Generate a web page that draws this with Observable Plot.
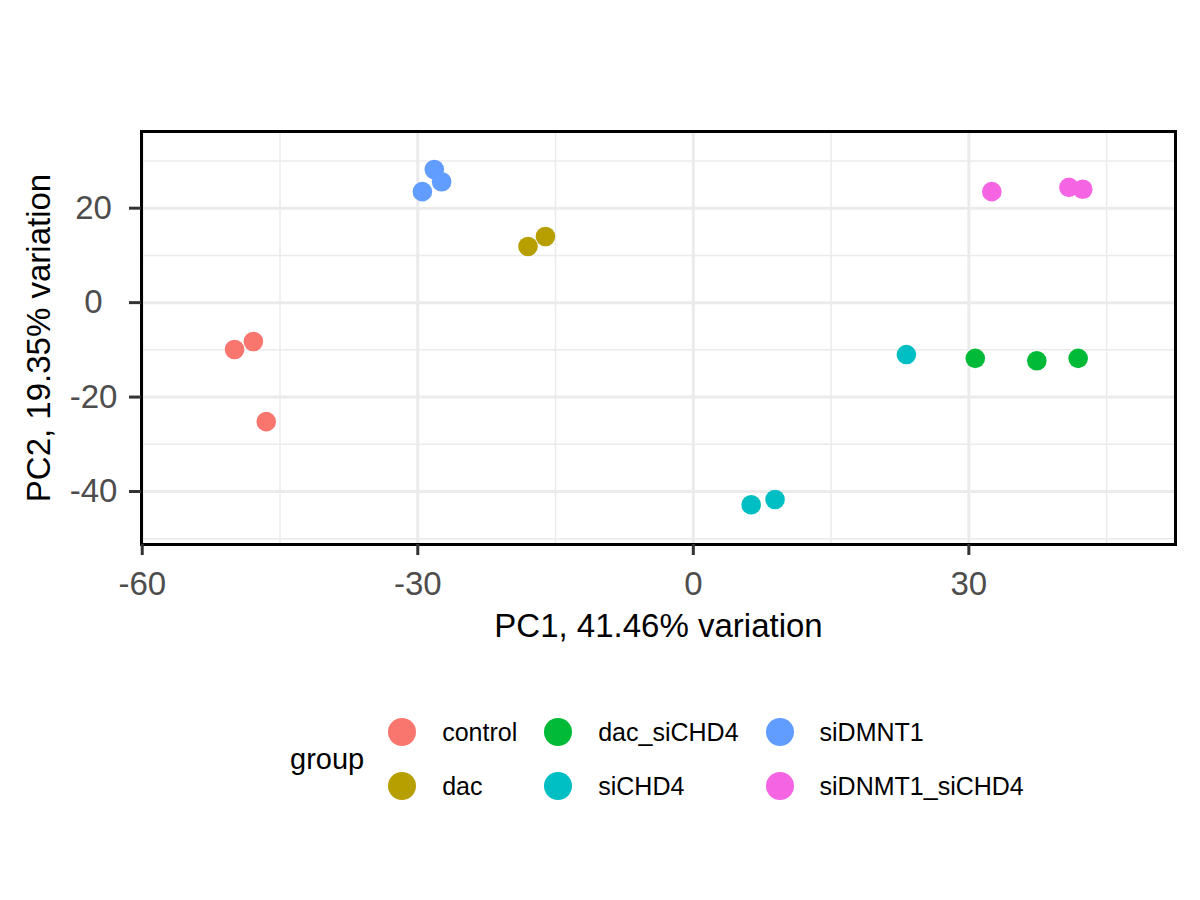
<!DOCTYPE html>
<html>
<head>
<meta charset="utf-8">
<script src="https://cdn.jsdelivr.net/npm/d3@7"></script>
<script src="https://cdn.jsdelivr.net/npm/@observablehq/plot@0.6"></script>
<style>
  html, body { margin: 0; padding: 0; background: #fff; }
  #wrap { position: relative; width: 1200px; height: 900px; font-family: "Liberation Sans", Arial, Helvetica, sans-serif; }
  #legend { position: absolute; left: 290px; top: 705px; display: flex; align-items: center; }
  #legend .title { font-size: 29px; color: #000; margin-right: 24px; }
  #legend .grid { display: grid; grid-template-rows: 54px 54px; grid-auto-flow: column; column-gap: 27px; }
  #legend .item { display: flex; align-items: center; }
  #legend .sw { width: 28px; height: 28px; border-radius: 50%; margin-right: 26px; }
  #legend .lab { font-size: 25px; color: #000; }
</style>
</head>
<body>
<div id="wrap"></div>
<script>
// ---- data ----
const groups = ["control", "dac", "dac_siCHD4", "siCHD4", "siDMNT1", "siDNMT1_siCHD4"];
const colors = ["#F8766D", "#B79F00", "#00BA38", "#00BFC4", "#619CFF", "#F564E3"];
const sampleGroup = ["control","control","control",
                     "siDMNT1","siDMNT1","siDMNT1",
                     "dac","dac",
                     "siCHD4","siCHD4","siCHD4",
                     "dac_siCHD4","dac_siCHD4","dac_siCHD4",
                     "siDNMT1_siCHD4","siDNMT1_siCHD4","siDNMT1_siCHD4"];
const pc1 = [-49.95, -47.9, -46.5,
             -29.5, -28.2, -27.4,
             -18.0, -16.1,
             23.2, 6.3, 8.9,
             30.7, 37.4, 41.9,
             32.5, 40.9, 42.4];
const pc2 = [-9.93, -8.24, -25.2,
             23.5, 28.2, 25.6,
             11.9, 14.0,
             -11.0, -42.8, -41.7,
             -11.8, -12.3, -11.8,
             23.5, 24.4, 24.0];
const xMajor = [-60, -30, 0, 30];
const xMinor = [-45, -15, 15, 45];
const yMajor = [-40, -20, 0, 20];
const yMinor = [-50, -30, -10, 10, 30];
const xTitle = "PC1, 41.46% variation";
const yTitle = "PC2, 19.35% variation";
const legendTitle = "group";

const samples = pc1.map((v, i) => ({pc1: v, pc2: pc2[i], group: sampleGroup[i]}));

const grid = "#EBEBEB";
const chart = Plot.plot({
  width: 1200,
  height: 660,
  marginLeft: 141,
  marginRight: 25,
  marginTop: 131,
  marginBottom: 116,
  style: {fontFamily: '"Liberation Sans", Arial, Helvetica, sans-serif', background: "#fff"},
  x: {domain: [-60.08, 52.5]},
  y: {domain: [-51.22, 36.24]},
  color: {domain: groups, range: colors},
  marks: [
    Plot.gridX(xMinor, {stroke: grid, strokeOpacity: 1, strokeWidth: 1.5}),
    Plot.gridY(yMinor, {stroke: grid, strokeOpacity: 1, strokeWidth: 1.5}),
    Plot.gridX(xMajor, {stroke: grid, strokeOpacity: 1, strokeWidth: 3}),
    Plot.gridY(yMajor, {stroke: grid, strokeOpacity: 1, strokeWidth: 3}),
    Plot.dot(samples, {x: "pc1", y: "pc2", fill: "group", r: 9.8}),
    Plot.frame({stroke: "#000", strokeWidth: 3}),
    Plot.axisX(xMajor, {anchor: "bottom", tickSize: 11, tickPadding: 16, stroke: "#333333", strokeWidth: 3, fill: "#4D4D4D", fontSize: 33, label: null, tickFormat: d => String(d).replace("−", "-")}),
    Plot.axisY(yMajor, {anchor: "left", tickSize: 12, tickPadding: 36, textAnchor: "middle", stroke: "#333333", strokeWidth: 3, fill: "#4D4D4D", fontSize: 33, label: null, tickFormat: d => String(d).replace("−", "-")}),
    Plot.text([xTitle], {frameAnchor: "bottom", dy: 82, lineAnchor: "middle", fontSize: 33, fill: "#000"}),
    Plot.text([yTitle], {frameAnchor: "left", dx: -102, rotate: -90, textAnchor: "middle", lineAnchor: "middle", fontSize: 33, fill: "#000"})
  ]
});

const wrap = document.getElementById("wrap");
wrap.appendChild(chart);

// legend
const leg = document.createElement("div");
leg.id = "legend";
const t = document.createElement("div");
t.className = "title";
t.textContent = legendTitle;
leg.appendChild(t);
const g = document.createElement("div");
g.className = "grid";
groups.forEach((name, i) => {
  const it = document.createElement("div");
  it.className = "item";
  const sw = document.createElement("div");
  sw.className = "sw";
  sw.style.background = colors[i];
  const lab = document.createElement("div");
  lab.className = "lab";
  lab.textContent = name;
  it.appendChild(sw);
  it.appendChild(lab);
  g.appendChild(it);
});
leg.appendChild(g);
wrap.appendChild(leg);
</script>
</body>
</html>
